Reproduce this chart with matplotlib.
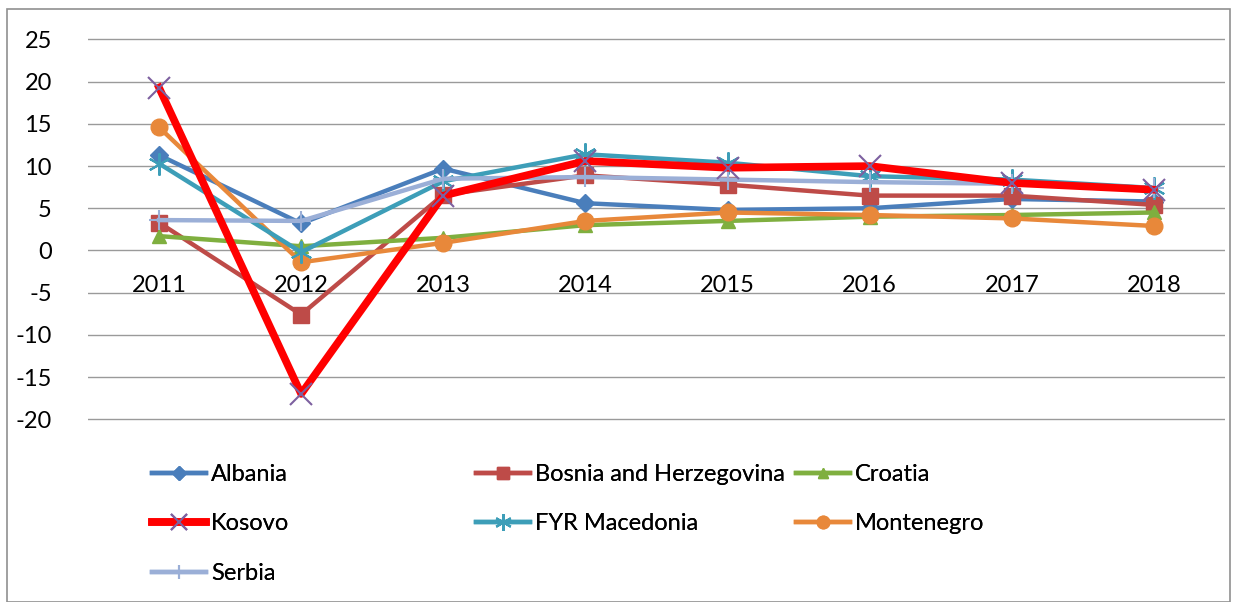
import matplotlib.pyplot as plt
from matplotlib.patches import Rectangle

plt.rcParams['font.family'] = ['Lato', 'DejaVu Sans']
plt.rcParams['axes.unicode_minus'] = False

years = ["2011", "2012", "2013", "2014", "2015", "2016", "2017", "2018"]

albania = [11.3, 3.2, 9.7, 5.6, 4.8, 5.0, 6.1, 5.8]
bosnia = [3.3, -7.6, 6.6, 8.9, 7.8, 6.5, 6.5, 5.4]
croatia = [1.7, 0.5, 1.5, 3.0, 3.5, 4.0, 4.2, 4.5]
kosovo = [19.3, -17.0, 6.5, 10.6, 9.8, 10.0, 8.0, 7.2]
macedonia = [10.3, -0.2, 8.2, 11.4, 10.4, 8.8, 8.4, 7.4]
montenegro = [14.6, -1.4, 0.9, 3.5, 4.5, 4.2, 3.8, 2.9]
serbia = [3.6, 3.5, 8.5, 8.7, 8.4, 8.1, 7.9, 7.4]

fig = plt.figure(figsize=(12.44, 6.02), dpi=100)
# y from -20.4 to 25.4 so the outer gridlines are not clipped
ax = fig.add_axes([0.0707, 0.298, 0.914, 0.642])

x = range(len(years))
ax.plot(x, albania, color="#4A7EBB", lw=3.2, marker="D", ms=9, label="Albania")
ax.plot(x, bosnia, color="#BE4B48", lw=3.2, marker="s", ms=11, label="Bosnia and Herzegovina")
ax.plot(x, croatia, color="#7FAF3F", lw=3.2, marker="^", ms=10, label="Croatia")
ax.plot(x, montenegro, color="#E8883A", lw=3.2, marker="o", ms=12, label="Montenegro")
ax.plot(x, macedonia, color="#3D9EB8", lw=3.2, marker=(6, 2, 0), ms=16, mew=1.5, label="FYR Macedonia")
ax.plot(x, serbia, color="#9BAFD7", lw=3.2, marker="+", ms=14, mew=1.5, label="Serbia")
ax.plot(x, kosovo, color="#FF0000", lw=5.5, marker="x", ms=16, mew=1.5, mec="#7D60A0", label="Kosovo")

ax.set_xlim(-0.5, 7.5)
ax.set_ylim(-20.4, 25.4)
ax.set_yticks(range(-20, 30, 5))
ax.set_xticks(list(x))
ax.set_xticklabels(years)
ax.grid(axis="y", color="#9a9a9a", lw=1)
ax.set_axisbelow(True)
for s in ["top", "right", "left"]:
    ax.spines[s].set_visible(False)
ax.spines["bottom"].set_position(("data", 0))
ax.spines["bottom"].set_visible(False)
ax.tick_params(axis="both", length=0, labelsize=17)
ax.tick_params(axis="y", pad=26)
ax.tick_params(axis="x", pad=18)

# legend laid out like Excel: three columns at fixed places
h, l = ax.get_legend_handles_labels()
cols = [(["Albania", "Kosovo", "Serbia"], 152),
        (["Bosnia and Herzegovina", "FYR Macedonia"], 476),
        (["Croatia", "Montenegro"], 796)]
for names, px in cols:
    hh = [h[l.index(n)] for n in names]
    lg = fig.legend(hh, names, loc="upper left", bbox_to_anchor=(px / 1244, 0.229),
                    frameon=False, fontsize=17, handlelength=2.3, borderpad=0,
                    borderaxespad=0, labelspacing=1.2, handletextpad=0.2,
                    markerscale=0.75)
    fig.add_artist(lg)

fig.patches.append(Rectangle((0.006, 0.0), 0.983, 0.985, transform=fig.transFigure,
                             fill=False, edgecolor="#909090", lw=1.2))

fig.savefig("out.png", dpi=100)
